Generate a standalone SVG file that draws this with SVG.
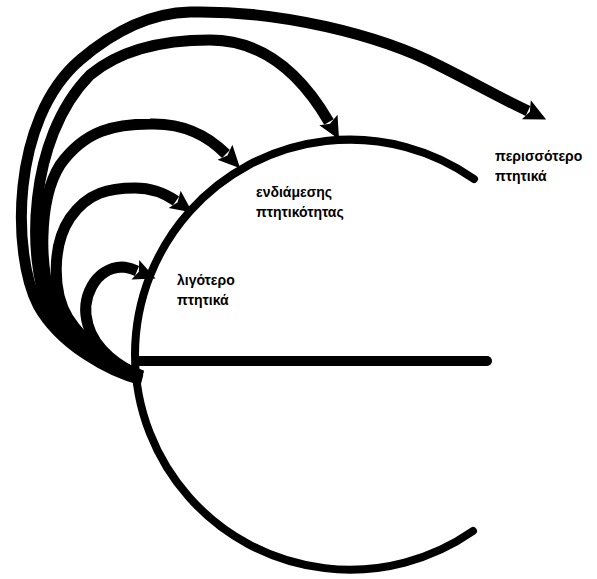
<svg xmlns="http://www.w3.org/2000/svg" width="597" height="579" viewBox="0 0 597 579">
  <defs>
    <marker id="head" markerUnits="userSpaceOnUse" markerWidth="40" markerHeight="40" refX="2" refY="0" viewBox="-10 -20 40 40" orient="auto" overflow="visible">
      <path d="M0,-11 L22,0 L0,10 L4,0 z" fill="#000"/>
    </marker>
  </defs>
  <style>
    .ln{fill:none;stroke:#000;stroke-linecap:round;stroke-linejoin:round}
    .arrow{fill:none;stroke:#000;stroke-width:11;stroke-linecap:butt;marker-end:url(#head)}
    .lbl{font-family:"Liberation Sans",Arial,sans-serif;font-weight:bold;font-size:14px;fill:#000}
  </style>
  <rect width="597" height="579" fill="#fff"/>
  <g id="shape">
    <path class="ln" stroke-width="8" d="M474,179 A215,215 0 1 0 473,531"/>
    <path class="ln" stroke-width="10" d="M140,361 L487,361"/>
  </g>
  <g id="connectors">
    <path class="arrow" stroke-width="10" d="M142,376 C120,368 95,350 88,325 C80,298 95,268 122,267 C128,267 132,269 137,271"/>
    <path class="arrow" d="M142,376 C118,368 85,345 68,318 C52,292 52,245 70,218 C88,192 110,188 135,188 C150,188 163,192 176,201"/>
    <path class="arrow" d="M142,377 C115,368 75,345 55,308 C38,275 38,200 60,165 C85,130 115,124 150,124 C185,123 208,136 226,154"/>
    <path class="arrow" d="M142,378 C112,370 68,345 48,305 C28,262 26,140 90,75 C120,50 160,40 210,40 C262,40 300,72 329,122"/>
    <path class="arrow" stroke-width="12" d="M142,380 C110,372 60,345 38,305 C12,255 10,120 80,60 C115,30 150,13 190,12 C280,10 380,35 440,66 C478,85 500,98 528,111"/>
  </g>
  <g id="label-more">
    <text class="lbl" x="495" y="161">περισσότερο</text>
    <text class="lbl" x="495" y="181">πτητικά</text>
  </g>
  <g id="label-mid">
    <text class="lbl" x="256" y="197">ενδιάμεσης</text>
    <text class="lbl" x="256" y="217">πτητικότητας</text>
  </g>
  <g id="label-less">
    <text class="lbl" x="177" y="285">λιγότερο</text>
    <text class="lbl" x="177" y="305">πτητικά</text>
  </g>
</svg>
